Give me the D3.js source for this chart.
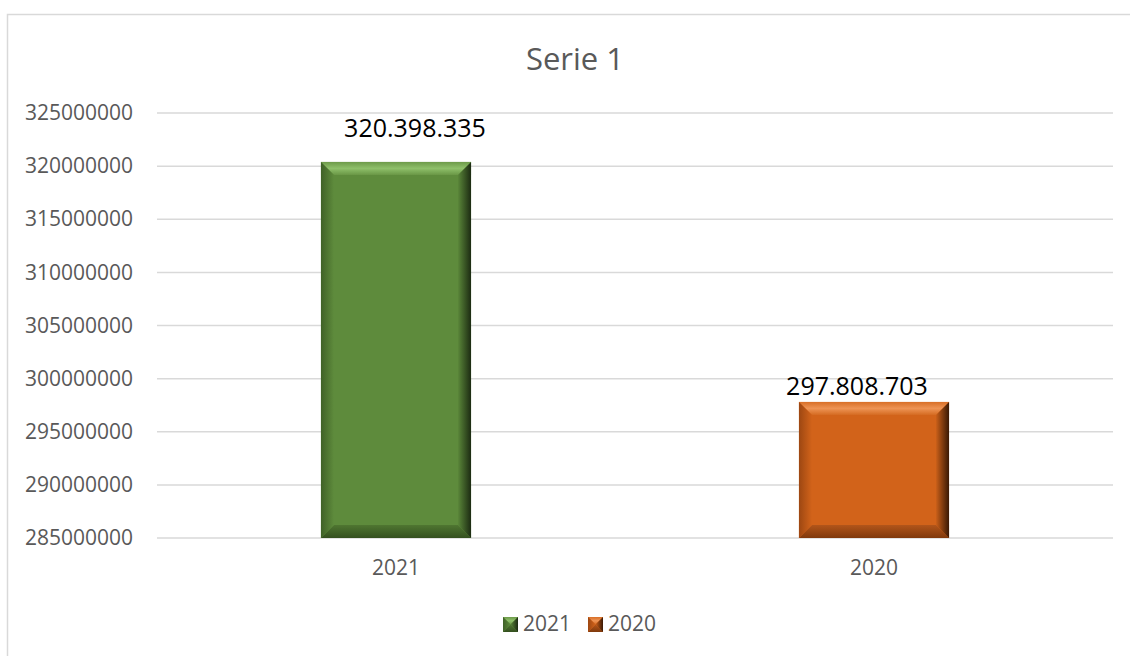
<!DOCTYPE html>
<html>
<head>
<meta charset="utf-8">
<script src="https://cdn.jsdelivr.net/npm/d3@7/dist/d3.min.js"></script>
<style>
  body { margin: 0; background: #fff; }
  svg { display: block; font-family: "Open Sans", "Liberation Sans", sans-serif; }
</style>
</head>
<body>
<div id="chart"></div>
<script>
// data
const categories = ["2021", "2020"];
const values = [320398335, 297808703];
const valueLabels = ["320.398.335", "297.808.703"];
const yTicks = [285000000, 290000000, 295000000, 300000000, 305000000, 310000000, 315000000, 320000000, 325000000];
const chartTitle = "Serie 1";

const W = 1130, H = 656;
const plot = { left: 157, right: 1113, top: 113, bottom: 538 };

// colour sets for the bevelled bars: base, top, left, right, bottom
const palette = [
    { base: "#5e8b3c", top: ["#6d9a49", "#8fc06a", "#6a9746"], left: ["#3f6127", "#5e8b3c"], right: ["#5a8639", "#1c2b12"], bottom: ["#4f7631", "#34501f"] },
    { base: "#d2631a", top: ["#d86f27", "#ee9455", "#d56b22"], left: ["#9d4712", "#d2631a"], right: ["#c95f19", "#3a1905"], bottom: ["#b2551a", "#80390c"] }
];

const svg = d3.select("#chart")
    .append("svg")
    .attr("width", W)
    .attr("height", H);

const defs = svg.append("defs");

// chart frame (runs past the window on the right and bottom)
svg.append("rect")
    .attr("x", 7.5).attr("y", 14.5)
    .attr("width", 1200).attr("height", 700)
    .attr("fill", "#fff")
    .attr("stroke", "#d9d9d9")
    .attr("stroke-width", 1.5);

// scales
const x = d3.scaleBand()
    .domain(categories)
    .range([plot.left, plot.right])
    .paddingInner(0.686)
    .paddingOuter(0.343);

const y = d3.scaleLinear()
    .domain([285000000, 325000000])
    .range([plot.bottom, plot.top]);

// gridlines
svg.append("g")
    .selectAll("line")
    .data(yTicks)
    .join("line")
    .attr("x1", plot.left).attr("x2", plot.right)
    .attr("y1", d => y(d)).attr("y2", d => y(d))
    .attr("stroke", "#d9d9d9")
    .attr("stroke-width", 1.5);

// y axis labels
const yAxis = svg.append("g")
    .attr("transform", `translate(${plot.left},0)`)
    .call(d3.axisLeft(y).tickValues(yTicks).tickFormat(d3.format("d")).tickSize(0).tickPadding(24));
yAxis.select(".domain").remove();
yAxis.selectAll("text")
    .attr("fill", "#595959")
    .attr("font-size", 21)
    .attr("font-family", "'Open Sans', sans-serif");

// x axis labels
const xAxis = svg.append("g")
    .attr("transform", `translate(0,${plot.bottom})`)
    .call(d3.axisBottom(x).tickSize(0).tickPadding(22));
xAxis.select(".domain").remove();
xAxis.selectAll("text")
    .attr("fill", "#595959")
    .attr("font-size", 21)
    .attr("font-family", "'Open Sans', sans-serif");

// gradients
function grad(id, stops, vertical) {
    const g = defs.append("linearGradient")
        .attr("id", id)
        .attr("x1", 0).attr("y1", 0)
        .attr("x2", vertical ? 0 : 1).attr("y2", vertical ? 1 : 0);
    stops.forEach((c, i) => {
        g.append("stop")
            .attr("offset", stops.length === 1 ? 0 : i / (stops.length - 1))
            .attr("stop-color", c);
    });
}
palette.forEach((p, i) => {
    grad(`top${i}`, p.top, true);
    grad(`bottom${i}`, p.bottom, true);
    grad(`left${i}`, p.left, false);
    grad(`right${i}`, p.right, false);
});

// bevelled box drawn as a centre rect plus four trapezoids
function bevelBox(g, x0, y0, x1, y1, b, i) {
    const pts = a => a.map(p => p.join(",")).join(" ");
    g.append("rect")
        .attr("x", x0).attr("y", y0)
        .attr("width", x1 - x0).attr("height", y1 - y0)
        .attr("fill", palette[i].base);
    g.append("polygon").attr("points", pts([[x0, y0], [x1, y0], [x1 - b, y0 + b], [x0 + b, y0 + b]])).attr("fill", `url(#top${i})`);
    g.append("polygon").attr("points", pts([[x0, y1], [x1, y1], [x1 - b, y1 - b], [x0 + b, y1 - b]])).attr("fill", `url(#bottom${i})`);
    g.append("polygon").attr("points", pts([[x0, y0], [x0 + b, y0 + b], [x0 + b, y1 - b], [x0, y1]])).attr("fill", `url(#left${i})`);
    g.append("polygon").attr("points", pts([[x1, y0], [x1 - b, y0 + b], [x1 - b, y1 - b], [x1, y1]])).attr("fill", `url(#right${i})`);
}

// bars
const bars = svg.append("g");
categories.forEach((c, i) => {
    const g = bars.append("g");
    bevelBox(g, x(c), y(values[i]), x(c) + x.bandwidth(), y(285000000), 13, i);
});

// data labels (nudged as in the original)
const labelShift = [[19, -25], [-17, -7]];
svg.append("g")
    .selectAll("text")
    .data(categories)
    .join("text")
    .attr("x", (d, i) => x(d) + x.bandwidth() / 2 + labelShift[i][0])
    .attr("y", (d, i) => y(values[i]) + labelShift[i][1])
    .attr("text-anchor", "middle")
    .attr("font-size", 25)
    .attr("fill", "#000")
    .text((d, i) => valueLabels[i]);

// title
svg.append("text")
    .attr("x", 575)
    .attr("y", 70)
    .attr("text-anchor", "middle")
    .attr("font-size", 31)
    .attr("fill", "#595959")
    .text(chartTitle);

// legend
const legend = svg.append("g").attr("transform", "translate(503,617)");
const legendStep = 85;
categories.forEach((c, i) => {
    const g = legend.append("g").attr("transform", `translate(${i * legendStep},0)`);
    bevelBox(g, 0, 0, 15, 15, 7.5, i);
    g.append("text")
        .attr("x", 20)
        .attr("y", 14)
        .attr("font-size", 21)
        .attr("fill", "#595959")
        .text(c);
});
</script>
</body>
</html>
